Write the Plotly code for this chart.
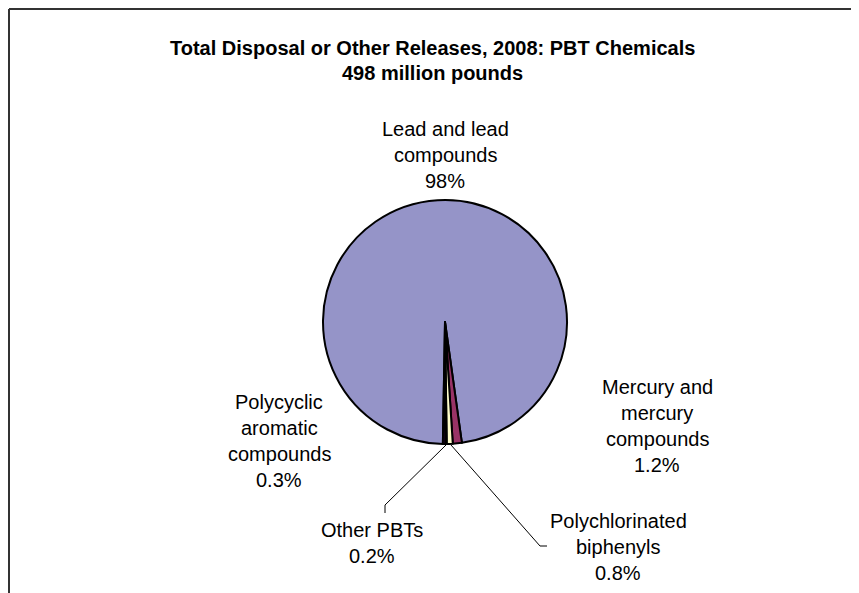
import plotly.graph_objects as go

categories = ["Lead and lead compounds", "Mercury and mercury compounds",
              "Polychlorinated biphenyls", "Other PBTs", "Polycyclic aromatic compounds"]
values = [98, 1.2, 0.8, 0.2, 0.3]
value_labels = ["98%", "1.2%", "0.8%", "0.2%", "0.3%"]
label_lines = [["Lead and lead", "compounds"],
               ["Mercury and", "mercury", "compounds"],
               ["Polychlorinated", "biphenyls"],
               ["Other PBTs"],
               ["Polycyclic", "aromatic", "compounds"]]
colors = ["#9594C8", "#993366", "#FFFFCC", "#CCFFFF", "#660066"]
title_lines = ["Total Disposal or Other Releases, 2008: PBT Chemicals", "498 million pounds"]

W, H = 859, 593
OFF = 8  # page body margin offset
cx, cy, R = 445 - OFF, 322 - OFF, 122

def px(x):
    return x / W

def py(y):
    return 1 - y / H

fig = go.Figure(go.Pie(
    labels=categories, values=values, sort=False, direction="clockwise",
    rotation=181, textinfo="none", hoverinfo="label+percent",
    marker=dict(colors=colors, line=dict(color="black", width=2)),
    domain=dict(x=[px(cx - R), px(cx + R)], y=[py(cy + R), py(cy - R)]),
    showlegend=False,
))

font = "Liberation Sans, Arial, sans-serif"
annotations = []
# label anchor (center x, first line y) in reference pixels, and line spacing
label_pos = [(445, 129), (657, 387), (618, 521), (372, 530), (279, 402)]
spacing = 26
for lines, val, (x0, y0) in zip(label_lines, value_labels, label_pos):
    for i, t in enumerate(lines + [val]):
        annotations.append(dict(x=px(x0 - OFF), y=py(y0 - OFF + i * spacing),
                                xref="paper", yref="paper",
                                text=t, showarrow=False, xanchor="center", yanchor="middle",
                                font=dict(family=font, size=20, color="black")))
for i, t in enumerate(title_lines):
    annotations.append(dict(x=px(432 - OFF), y=py(48 - OFF + i * 25), xref="paper", yref="paper",
                            text="<b>" + t + "</b>", showarrow=False, xanchor="center",
                            yanchor="middle", font=dict(family=font, size=20, color="black")))

shapes = [
    # chart frame
    dict(type="line", xref="paper", yref="paper", x0=px(1), x1=1.01, y0=py(1), y1=py(1),
         line=dict(color="#333333", width=2)),
    dict(type="line", xref="paper", yref="paper", x0=px(1), x1=px(1), y0=py(1), y1=-0.01,
         line=dict(color="#333333", width=2)),
    # leader lines
    dict(type="path", xref="paper", yref="paper",
         path=f"M {px(446-OFF)} {py(445-OFF)} L {px(385-OFF)} {py(505-OFF)} L {px(385-OFF)} {py(513-OFF)}",
         line=dict(color="black", width=1)),
    dict(type="path", xref="paper", yref="paper",
         path=f"M {px(451-OFF)} {py(445-OFF)} L {px(540-OFF)} {py(546-OFF)} L {px(547-OFF)} {py(546-OFF)}",
         line=dict(color="black", width=1)),
]

fig.update_layout(width=W, height=H, margin=dict(l=0, r=0, t=0, b=0),
                  paper_bgcolor="white", plot_bgcolor="white",
                  annotations=annotations, shapes=shapes)
fig.write_html("out.html")
